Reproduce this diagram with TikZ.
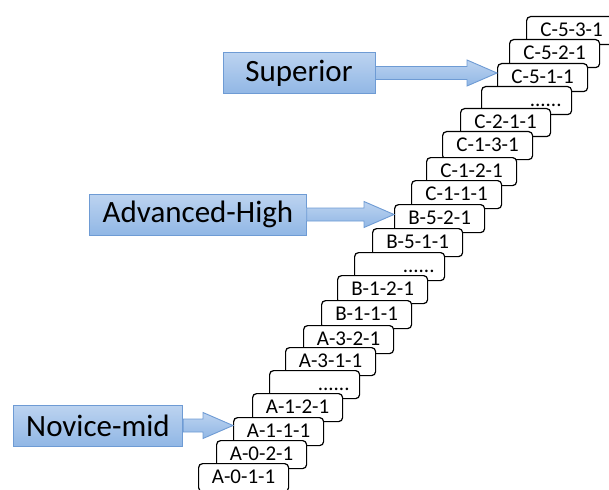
\documentclass[tikz,border=0pt]{standalone}
\usepackage{fontspec}
\setmainfont{Carlito}
\usetikzlibrary{calc}

\definecolor{lvlborder}{RGB}{110,155,212}
\definecolor{lvltop}{RGB}{188,211,240}
\definecolor{lvlbot}{RGB}{145,183,229}

\newcommand{\gapdots}{......}

\tikzset{
  card/.style={draw=black, fill=white, line width=1.2pt, rounded corners=4pt,
    minimum width=90pt, minimum height=28pt, inner xsep=10pt, inner ysep=0pt,
    text height=15pt, text depth=4pt, font=\fontsize{21}{24}\selectfont},
  level/.style={draw=lvlborder, top color=lvltop, bottom color=lvlbot, line width=0.9pt,
    minimum height=41pt, inner xsep=13pt, font=\fontsize{31}{36}\selectfont},
  levelarrow/.style={draw=lvlborder, top color=lvltop, bottom color=lvlbot, line width=0.9pt}
}

\begin{document}
\begin{tikzpicture}[x=1pt,y=-1pt]
\useasboundingbox (0,0) rectangle (609,489);
\clip (0,0) rectangle (609,489);

% stair of cards, top first so the lower ones lie over them
\foreach \lbl/\al/\px/\py [count=\i] in {C-5-3-1/center/526/16, C-5-2-1/center/509/39,
    C-5-1-1/center/497/63, \gapdots/right/481/86, C-2-1-1/center/460/108,
    C-1-3-1/center/442/131, C-1-2-1/center/426/157, C-1-1-1/center/411/180,
    B-5-2-1/center/394/204, B-5-1-1/center/372/228, \gapdots/right/354/252,
    B-1-2-1/center/337/275, B-1-1-1/center/321/300, A-3-2-1/center/303/325,
    A-3-1-1/center/285/347, \gapdots/right/269/370, A-1-2-1/center/252/393,
    A-1-1-1/center/233/417, A-0-2-1/center/216/440, A-0-1-1/center/198/463} {
  \node[card, anchor=north west, text width=70pt, align=\al] (c\i) at (\px,\py) {\lbl};
}

\node[level, minimum width=152pt] (sup) at (299,73) {Superior};
\node[level] (adv) at (198,214.5) {Advanced-High};
\node[level] (nov) at (98,425.5) {Novice-mid};

\foreach \lv/\cd in {sup/c3, adv/c9, nov/c18} {
  \coordinate (t\lv) at (\lv.east -| \cd.west);
  \draw[levelarrow] ($(\lv.east)+(0,-6.5)$) -- ($(t\lv)+(-30,-6.5)$) -- ($(t\lv)+(-30,-13)$)
    -- (t\lv) -- ($(t\lv)+(-30,13)$) -- ($(t\lv)+(-30,6.5)$) -- ($(\lv.east)+(0,6.5)$) -- cycle;
}
\end{tikzpicture}
\end{document}
